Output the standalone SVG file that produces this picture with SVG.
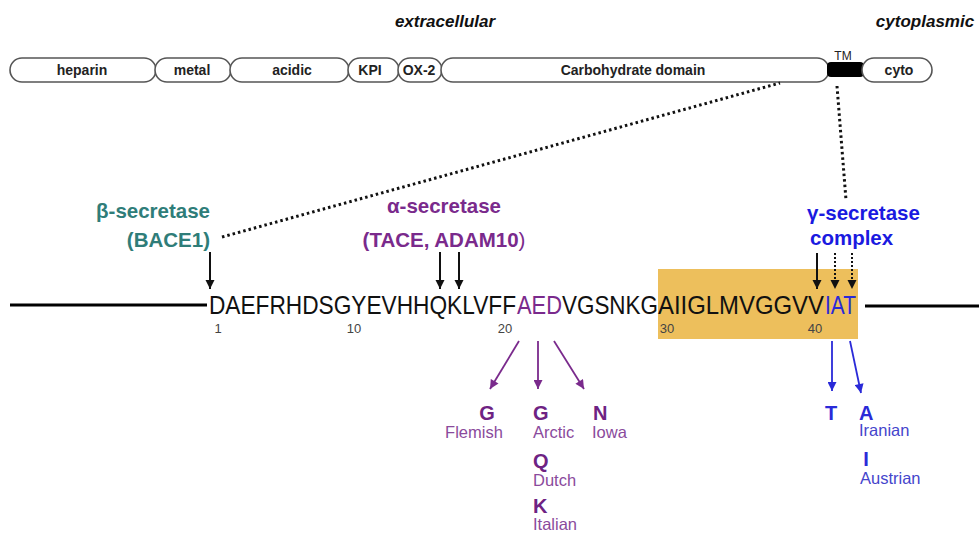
<svg xmlns="http://www.w3.org/2000/svg" width="979" height="534" viewBox="0 0 979 534">
<defs>
<style>
.dom{fill:#fff;stroke:#555;stroke-width:1.6}
.dl{font-family:"Liberation Sans",Arial,sans-serif;font-weight:bold;font-size:14px;text-anchor:middle;fill:#222}
.hdr{font-family:"Liberation Sans",Arial,sans-serif;font-weight:bold;font-style:italic;font-size:17px;fill:#111;text-anchor:middle}
.seq{font-family:"Liberation Sans",Arial,sans-serif;font-size:25px;fill:#111}
.num{font-family:"Liberation Sans",Arial,sans-serif;font-size:13px;fill:#444;text-anchor:middle}
.enz{font-family:"Liberation Sans",Arial,sans-serif;font-weight:bold;font-size:20.5px}
.mut{font-family:"Liberation Sans",Arial,sans-serif;font-weight:bold;font-size:20px}
.nm{font-family:"Liberation Sans",Arial,sans-serif;font-size:16.5px}
.ak{stroke:#111;stroke-width:2;fill:none}
.pu{stroke:#7a2a8c;stroke-width:1.8;fill:none}
.bl{stroke:#2a2ad8;stroke-width:1.8;fill:none}
</style>
<marker id="mk" viewBox="0 0 10 10" refX="10" refY="5" markerWidth="9" markerHeight="10" markerUnits="userSpaceOnUse" orient="auto"><path d="M0,0 L10,5 L0,10 z" fill="#111"/></marker>
<marker id="mp" viewBox="0 0 10 10" refX="10" refY="5" markerWidth="10" markerHeight="9" markerUnits="userSpaceOnUse" orient="auto"><path d="M0,0 L10,5 L0,10 z" fill="#7a2a8c"/></marker>
<marker id="mb" viewBox="0 0 10 10" refX="10" refY="5" markerWidth="10" markerHeight="9" markerUnits="userSpaceOnUse" orient="auto"><path d="M0,0 L10,5 L0,10 z" fill="#2a2ad8"/></marker>
</defs>
<rect width="979" height="534" fill="#fff"/>

<text class="hdr" x="445" y="27">extracellular</text>
<text class="hdr" x="925" y="27">cytoplasmic</text>

<g id="heparin"><rect class="dom" x="10" y="58" width="146" height="24" rx="12"/><text class="dl" x="82" y="75">heparin</text></g>
<g id="metal"><rect class="dom" x="155" y="58" width="76" height="24" rx="12"/><text class="dl" x="192" y="75">metal</text></g>
<g id="acidic"><rect class="dom" x="230" y="58" width="119" height="24" rx="12"/><text class="dl" x="292" y="75">acidic</text></g>
<g id="kpi"><rect class="dom" x="348" y="58" width="51" height="24" rx="12"/><text class="dl" x="370" y="75">KPI</text></g>
<g id="ox2"><rect class="dom" x="398" y="58" width="44" height="24" rx="12"/><text class="dl" x="419" y="75">OX-2</text></g>
<g id="carbohydrate"><rect class="dom" x="441" y="58" width="388" height="24" rx="12"/><text class="dl" x="633" y="75">Carbohydrate domain</text></g>
<g id="tm"><rect x="827" y="62" width="37" height="15" rx="4" fill="#000"/><text x="843" y="60" font-family="Liberation Sans, Arial, sans-serif" font-size="12" text-anchor="middle" fill="#222">TM</text></g>
<g id="cyto"><rect class="dom" x="862" y="58" width="70" height="24" rx="12"/><text class="dl" x="899" y="75">cyto</text></g>

<g id="sequence">
<line x1="10" y1="305" x2="207" y2="305" stroke="#000" stroke-width="3"/>
<line x1="865" y1="306" x2="979" y2="306" stroke="#000" stroke-width="3"/>
<rect x="658" y="269" width="200" height="70" fill="#EDBF5C"/>
<text class="seq" y="314"><tspan x="209" textLength="307" lengthAdjust="spacingAndGlyphs">DAEFRHDSGYEVHHQKLVFF</tspan><tspan x="517" fill="#7a2a8c" textLength="45" lengthAdjust="spacingAndGlyphs">AED</tspan><tspan x="562" textLength="96" lengthAdjust="spacingAndGlyphs">VGSNKG</tspan><tspan x="658" textLength="166" lengthAdjust="spacingAndGlyphs">AIIGLMVGGVV</tspan><tspan x="825" fill="#2a2ad8" textLength="31" lengthAdjust="spacingAndGlyphs">IAT</tspan></text>
<text class="num" x="218" y="333">1</text>
<text class="num" x="354" y="333">10</text>
<text class="num" x="505" y="333">20</text>
<text class="num" x="667" y="333" fill="#6b5420">30</text>
<text class="num" x="815" y="333" fill="#6b5420">40</text>
</g>

<g id="connectors">
<line x1="222" y1="237" x2="780" y2="83" stroke="#111" stroke-width="3" stroke-dasharray="2.5 3"/>
<line x1="837" y1="86" x2="846" y2="200" stroke="#111" stroke-width="3" stroke-dasharray="2.5 3"/>
<line class="ak" x1="210" y1="252" x2="210" y2="289" marker-end="url(#mk)"/>
<line class="ak" x1="440" y1="252" x2="440" y2="289" marker-end="url(#mk)"/>
<line class="ak" x1="459" y1="252" x2="459" y2="289" marker-end="url(#mk)"/>
<line class="ak" x1="817" y1="253" x2="817" y2="289" marker-end="url(#mk)"/>
<line x1="835" y1="253" x2="835" y2="289" stroke="#111" stroke-width="2" stroke-dasharray="2 2" marker-end="url(#mk)"/>
<line x1="852" y1="253" x2="852" y2="289" stroke="#111" stroke-width="2" stroke-dasharray="2 2" marker-end="url(#mk)"/>
<line class="pu" x1="519" y1="341" x2="490" y2="389" marker-end="url(#mp)"/>
<line class="pu" x1="538" y1="341" x2="538" y2="389" marker-end="url(#mp)"/>
<line class="pu" x1="554" y1="341" x2="584" y2="389" marker-end="url(#mp)"/>
<line class="bl" x1="832" y1="341" x2="832" y2="391" marker-end="url(#mb)"/>
<line class="bl" x1="850" y1="341" x2="861" y2="393" marker-end="url(#mb)"/>
</g>

<g id="beta-secretase">
<text class="enz" x="210" y="218" text-anchor="end" fill="#2f7d79">β-secretase</text>
<text class="enz" x="210" y="247" text-anchor="end" fill="#2f7d79">(BACE1)</text>
</g>
<g id="alpha-secretase">
<text class="enz" x="444" y="213" text-anchor="middle" fill="#7a2a8c">α-secretase</text>
<text class="enz" x="444" y="247" text-anchor="middle" fill="#7a2a8c">(TACE, ADAM10<tspan font-weight="normal">)</tspan></text>
</g>
<g id="gamma-secretase">
<text class="enz" x="807" y="220" fill="#1a1ae0">γ-secretase</text>
<text class="enz" x="810" y="245" fill="#1a1ae0">complex</text>
</g>

<g id="mutations-aed" fill="#6e2283">
<text class="mut" x="487" y="420" text-anchor="middle">G</text>
<text class="nm" x="474" y="438" text-anchor="middle" fill="#8a4a9c">Flemish</text>
<text class="mut" x="533" y="420">G</text>
<text class="nm" x="533" y="438" fill="#8a4a9c">Arctic</text>
<text class="mut" x="593" y="420">N</text>
<text class="nm" x="592" y="438" fill="#8a4a9c">Iowa</text>
<text class="mut" x="533" y="468">Q</text>
<text class="nm" x="533" y="486" fill="#8a4a9c">Dutch</text>
<text class="mut" x="533" y="513">K</text>
<text class="nm" x="533" y="530" fill="#8a4a9c">Italian</text>
</g>
<g id="mutations-iat" fill="#2a2ad8">
<text class="mut" x="831" y="420" text-anchor="middle">T</text>
<text class="mut" x="859" y="420">A</text>
<text class="nm" x="859" y="436" fill="#4545cc">Iranian</text>
<text class="mut" x="866" y="466" text-anchor="middle">I</text>
<text class="nm" x="860" y="484" fill="#4545cc">Austrian</text>
</g>
</svg>
